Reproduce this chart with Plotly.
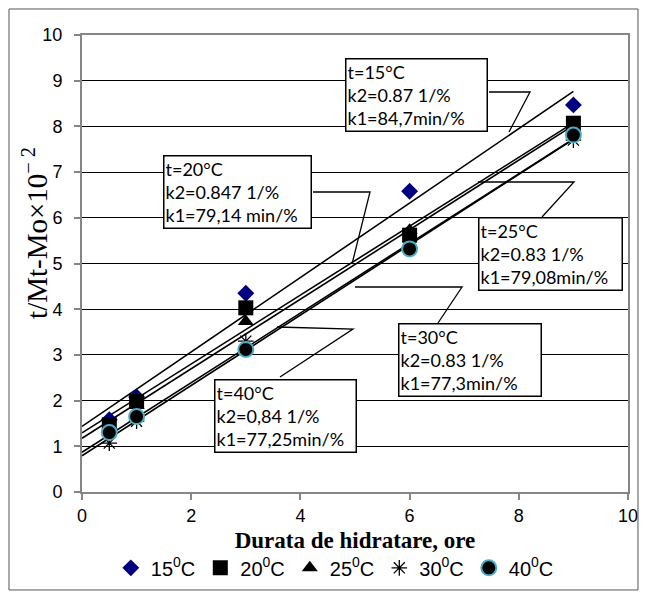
import numpy as np
import plotly.graph_objects as go

# ---- data ----
hours = [0.5, 1, 3, 6, 9]
t15 = [1.58, 2.08, 4.35, 6.58, 8.47]
t20 = [1.47, 1.98, 4.03, 5.62, 8.07]
t25 = [1.40, 1.90, 3.73, 5.73, 7.95]
t30 = [1.07, 1.55, 3.30, 5.35, 7.70]
t40 = [1.30, 1.65, 3.12, 5.32, 7.81]
series_names = ["15<sup>0</sup>C", "20<sup>0</sup>C", "25<sup>0</sup>C", "30<sup>0</sup>C", "40<sup>0</sup>C"]
box_texts = [
    "t=15°C<br>k2=0.87 1/%<br>k1=84,7min/%",
    "t=20°C<br>k2=0.847 1/%<br>k1=79,14 min/%",
    "t=25°C<br>k2=0.83 1/%<br>k1=79,08min/%",
    "t=30°C<br>k2=0.83 1/%<br>k1=77,3min/%",
    "t=40°C<br>k2=0,84 1/%<br>k1=77,25min/%",
]
backward = 0.5  # trendline backward forecast

# ---- styles ----
all_series = [t15, t20, t25, t30, t40]
markers = [
    dict(symbol="diamond", size=13, color="#000080"),
    dict(symbol="square", size=15, color="black"),
    dict(symbol="triangle-up", size=14, color="black"),
    dict(symbol="asterisk-open", size=13, color="black", line=dict(color="black", width=1.3)),
    dict(symbol="circle", size=15, color="black", line=dict(color="#4BACC6", width=2)),
]

fig = go.Figure()

# trendlines (least squares fit of each series)
for ys in all_series:
    slope, intercept = np.polyfit(hours, ys, 1)
    xs = np.array([min(hours) - backward, max(hours)])
    fig.add_trace(go.Scatter(x=xs, y=slope * xs + intercept, mode="lines",
                             line=dict(color="black", width=1.6),
                             showlegend=False, hoverinfo="skip"))

for name, ys, mk in zip(series_names, all_series, markers):
    fig.add_trace(go.Scatter(x=hours, y=ys, mode="markers", name=name, marker=mk))

# callout leader lines (data coordinates)
leaders = [
    [(7.454, 8.753), (8.205, 8.753), (7.821, 7.877)],
    [(4.231, 6.565), (5.275, 6.565), (4.945, 4.989)],
    [(8.425, 6.018), (9.011, 6.783), (7.253, 6.783)],
    [(6.520, 3.698), (6.960, 4.486), (5.000, 4.486)],
    [(3.626, 2.516), (4.963, 3.567), (3.571, 3.611)],
]
for pts in leaders:
    path = "M " + " L ".join(f"{x},{y}" for x, y in pts)
    fig.add_shape(type="path", path=path, xref="x", yref="y",
                  line=dict(color="black", width=1.3))

# callout boxes: (x, y) top-left in data coords, width in px
boxes = [
    (4.817, 9.49, 144),
    (1.489, 7.374, 150),
    (7.258, 6.011, 146),
    (5.782, 3.691, 145),
    (2.418, 2.473, 144),
]
for txt, (bx, by, bw) in zip(box_texts, boxes):
    fig.add_annotation(x=bx, y=by, xref="x", yref="y", xanchor="left", yanchor="top",
                       text=txt, showarrow=False, align="left", valign="middle",
                       width=bw - 6, borderpad=1,
                       bordercolor="black", borderwidth=1.5, bgcolor="white",
                       font=dict(family="Lato", size=18, color="black"))

# y-axis title
fig.add_annotation(x=-0.086, y=0.567, xref="paper", yref="paper", textangle=-90,
                   xanchor="center", yanchor="middle",
                   text="t/Mt-Mo×10<sup>− 2</sup>", showarrow=False,
                   font=dict(family="Liberation Serif", size=29, color="black"))

# outer chart border
fig.add_shape(type="rect", xref="paper", yref="paper",
              x0=-0.1337, x1=1.0183, y0=-0.2144, y1=1.0569,
              line=dict(color="#555555", width=1))

axis_gray = "#868686"
fig.update_xaxes(range=[0, 10], dtick=2, tick0=0, showgrid=False, zeroline=False,
                 showline=True, linecolor=axis_gray, linewidth=2, mirror=True,
                 ticks="outside", ticklen=6, tickcolor=axis_gray, tickwidth=2,
                 automargin=False,
                 tickfont=dict(family="Liberation Sans", size=18, color="black"),
                 title=dict(text="<b>Durata de hidratare, ore</b>", standoff=7,
                            font=dict(family="Liberation Serif", size=23, color="black")))
fig.update_yaxes(range=[0, 10], dtick=1, tick0=0, showgrid=True, gridcolor="black",
                 gridwidth=1, zeroline=False,
                 showline=True, linecolor=axis_gray, linewidth=2, mirror=True,
                 ticks="outside", ticklen=6, tickcolor=axis_gray, tickwidth=2,
                 ticklabelstandoff=8, automargin=False,
                 tickfont=dict(family="Liberation Sans", size=18, color="black"))

fig.update_layout(
    width=647, height=599,
    margin=dict(l=82, r=19, t=35, b=107, autoexpand=False),
    plot_bgcolor="white", paper_bgcolor="white",
    legend=dict(orientation="h", x=0.463, xanchor="center", y=-0.166, yanchor="middle",
                font=dict(family="Liberation Sans", size=20, color="black"),
                itemsizing="trace", tracegroupgap=0, bgcolor="rgba(0,0,0,0)"),
)

fig.write_html("out.html")
